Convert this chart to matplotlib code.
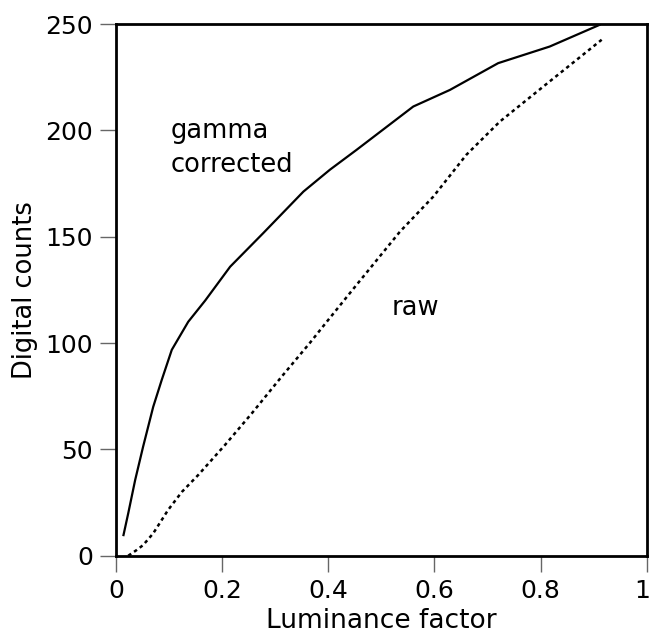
import numpy as np
import matplotlib.pyplot as plt
import matplotlib.transforms as mtransforms

# values
gamma_x = [0.014, 0.023, 0.036, 0.051, 0.070, 0.086, 0.105, 0.136, 0.168, 0.215,
           0.277, 0.353, 0.403, 0.453, 0.560, 0.629, 0.720, 0.817, 0.911]
gamma_y = [9.7, 20, 35.6, 51.3, 70, 82.6, 96.8, 110, 120, 135.9,
           151.6, 171.2, 181.5, 190.8, 211.2, 219, 231.6, 239.4, 249.6]

raw_x = [0.023, 0.039, 0.051, 0.070, 0.098, 0.124, 0.155, 0.205, 0.256, 0.312,
         0.365, 0.397, 0.453, 0.535, 0.598, 0.660, 0.723, 0.817, 0.915]
raw_y = [0, 2.7, 5, 10.5, 21.5, 30, 38, 52, 67, 84.2,
         100, 110, 127.3, 152.4, 168.9, 188.5, 204.1, 223, 242.6]

x_ticks = [0, 0.2, 0.4, 0.6, 0.8, 1]
x_labels = ["0", "0.2", "0.4", "0.6", "0.8", "1"]
y_ticks = [0, 50, 100, 150, 200, 250]

plt.rcParams['font.family'] = ['DejaVu Sans']

fig = plt.figure(figsize=(6.52, 6.42), dpi=100)
ax = fig.add_axes([0.178, 0.1344, 0.814, 0.8282])

ax.plot(gamma_x, gamma_y, color='black', lw=1.6, solid_joinstyle='round')
ax.plot(raw_x, raw_y, color='black', lw=1.8, linestyle=(0, (1.4, 1.4)))

# curve labels
ax.text(0.103, 196.3, "gamma", fontsize=18.5, va='baseline', ha='left')
ax.text(0.103, 180.6, "corrected", fontsize=18.5, va='baseline', ha='left')
ax.text(0.519, 113.2, "raw", fontsize=18.5, va='baseline', ha='left')

ax.set_xlim(0, 1)
ax.set_ylim(0, 250)
ax.set_xticks(x_ticks)
ax.set_xticklabels(x_labels)
ax.set_yticks(y_ticks)
ax.tick_params(direction='out', length=11.5, width=1, color='#666666',
               labelsize=18, pad=5)
for s in ax.spines.values():
    s.set_linewidth(2)

# last x label sits on the figure edge, keep it inside
last = ax.get_xticklabels()[-1]
last.set_ha('right')
last.set_transform(last.get_transform() +
                   mtransforms.ScaledTranslation(3 / 100, 0, fig.dpi_scale_trans))

ax.set_xlabel("Luminance factor", fontsize=19, labelpad=4)
ax.set_ylabel("Digital counts", fontsize=18.5, labelpad=5)

fig.savefig("out.png", dpi=100)
